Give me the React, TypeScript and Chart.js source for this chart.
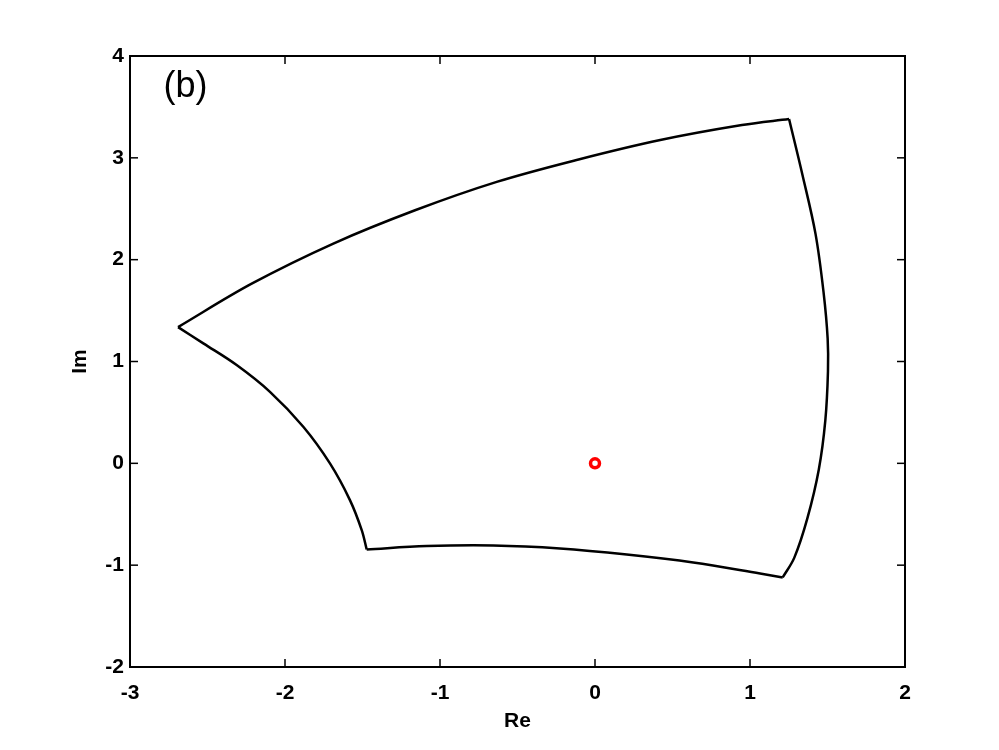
import React, { useEffect, useRef } from "react";
import { Chart, registerables } from "chart.js";

Chart.register(...registerables);

// Boundary of the region, edge by edge (Re, Im)
const topEdgeRe = [-2.69, -2.215, -1.688, -1.161, -0.634, -0.106, 0.421, 0.948, 1.252];
const topEdgeIm = [1.338, 1.764, 2.158, 2.485, 2.764, 2.984, 3.175, 3.322, 3.381];

const rightEdgeRe = [1.252, 1.339, 1.423, 1.475, 1.501, 1.503, 1.486, 1.444, 1.37, 1.286, 1.211];
const rightEdgeIm = [3.381, 2.829, 2.251, 1.674, 1.224, 0.903, 0.421, -0.06, -0.541, -0.926, -1.121];

const bottomEdgeRe = [1.211, 1.065, 0.634, 0.205, -0.226, -0.656, -1.086, -1.473];
const bottomEdgeIm = [-1.121, -1.082, -0.973, -0.895, -0.836, -0.807, -0.813, -0.846];

const leftEdgeRe = [-1.473, -1.505, -1.581, -1.71, -1.882, -2.097, -2.312, -2.527, -2.69];
const leftEdgeIm = [-0.846, -0.656, -0.361, -0.001, 0.359, 0.702, 0.965, 1.178, 1.338];

const markerRe = [0];
const markerIm = [0];

const xTicks = [-3, -2, -1, 0, 1, 2];
const yTicks = [-2, -1, 0, 1, 2, 3, 4];

const panelLabel = "(b)";
const panelLabelRe = -2.642;
const panelLabelIm = 3.695;

const zip = (xs: number[], ys: number[]) => xs.map((x, i) => ({ x, y: ys[i] }));

const edgeDataset = (xs: number[], ys: number[]) => ({
  type: "scatter" as const,
  data: zip(xs, ys),
  showLine: true,
  tension: 0.35,
  borderColor: "#000000",
  borderWidth: 2.5,
  pointRadius: 0,
  fill: false,
  order: 2,
});

const framePlugin = {
  id: "matlabFrame",
  afterDatasetsDraw(chart: any) {
    const { ctx, chartArea: a, scales } = chart;
    ctx.save();
    ctx.strokeStyle = "#000000";
    ctx.lineWidth = 2;
    ctx.strokeRect(a.left, a.top, a.right - a.left, a.bottom - a.top);
    ctx.lineWidth = 1.5;
    const L = 8;
    const seg = (x1: number, y1: number, x2: number, y2: number) => {
      ctx.beginPath();
      ctx.moveTo(x1, y1);
      ctx.lineTo(x2, y2);
      ctx.stroke();
    };
    xTicks.forEach((v) => {
      const px = scales.x.getPixelForValue(v);
      seg(px, a.bottom, px, a.bottom - L);
      seg(px, a.top, px, a.top + L);
    });
    yTicks.forEach((v) => {
      const py = scales.y.getPixelForValue(v);
      seg(a.left, py, a.left + L, py);
      seg(a.right, py, a.right - L, py);
    });
    ctx.fillStyle = "#000000";
    ctx.font = '36px "Liberation Sans", Arial, sans-serif';
    ctx.textAlign = "center";
    ctx.textBaseline = "middle";
    ctx.fillText(
      panelLabel,
      scales.x.getPixelForValue(panelLabelRe),
      scales.y.getPixelForValue(panelLabelIm)
    );
    ctx.restore();
  },
};

export default function App() {
  const ref = useRef<HTMLCanvasElement | null>(null);

  useEffect(() => {
    if (!ref.current) return;
    const tickFont = { family: '"Liberation Sans", Arial, sans-serif', size: 21, weight: "bold" as const };
    const chart = new Chart(ref.current, {
      type: "scatter",
      data: {
        datasets: [
          edgeDataset(topEdgeRe, topEdgeIm),
          edgeDataset(rightEdgeRe, rightEdgeIm),
          edgeDataset(bottomEdgeRe, bottomEdgeIm),
          edgeDataset(leftEdgeRe, leftEdgeIm),
          {
            type: "scatter" as const,
            data: zip(markerRe, markerIm),
            showLine: false,
            pointRadius: 4.5,
            pointBorderWidth: 3.5,
            pointBorderColor: "#ff0000",
            pointBackgroundColor: "#ffffff",
            order: 1,
          },
        ],
      },
      options: {
        responsive: false,
        animation: false,
        events: [],
        layout: { padding: { top: 56, right: 94, left: 0, bottom: 0 } },
        plugins: { legend: { display: false }, tooltip: { enabled: false } },
        scales: {
          x: {
            type: "linear",
            min: -3,
            max: 2,
            afterBuildTicks: (s: any) => {
              s.ticks = xTicks.map((v) => ({ value: v }));
            },
            afterFit: (s: any) => {
              s.height = 83;
            },
            grid: { display: false, drawTicks: false },
            border: { display: false },
            ticks: { color: "#000000", font: tickFont, padding: 14, maxRotation: 0 },
            title: {
              display: true,
              text: "Re",
              color: "#000000",
              font: tickFont,
              padding: { top: 0, bottom: 16 },
            },
          },
          y: {
            type: "linear",
            min: -2,
            max: 4,
            afterBuildTicks: (s: any) => {
              s.ticks = yTicks.map((v) => ({ value: v }));
            },
            afterFit: (s: any) => {
              s.width = 130;
            },
            grid: { display: false, drawTicks: false },
            border: { display: false },
            ticks: { color: "#000000", font: tickFont, padding: 6 },
            title: {
              display: true,
              text: "Im",
              color: "#000000",
              font: tickFont,
              padding: { top: 68, bottom: 0 },
            },
          },
        },
      },
      plugins: [framePlugin],
    });
    return () => chart.destroy();
  }, []);

  return (
    <div style={{ position: "absolute", left: 0, top: 0, width: 999, height: 750, background: "#ffffff" }}>
      <canvas ref={ref} width={999} height={750} style={{ display: "block", width: 999, height: 750 }} />
    </div>
  );
}
